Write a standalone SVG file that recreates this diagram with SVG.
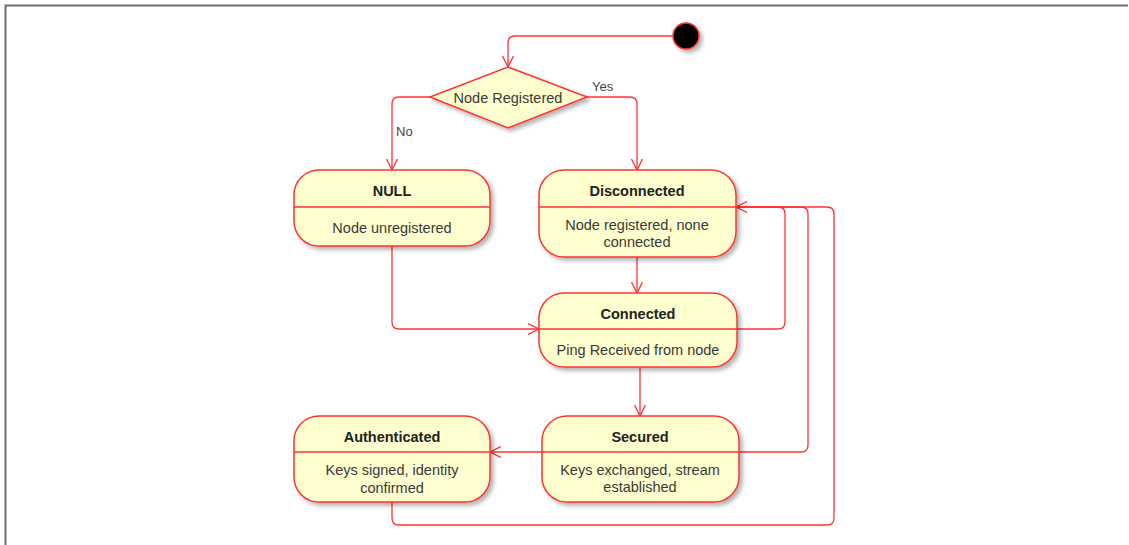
<svg xmlns="http://www.w3.org/2000/svg" width="1129" height="545" viewBox="0 0 1129 545">
  <style>
    .frame { fill: none; stroke: #6f6f6f; stroke-width: 2; }
    .state { fill: #FEFECE; stroke: #FF3333; stroke-width: 1.5; filter: url(#shadow); }
    .div { stroke: #FF3333; stroke-width: 1.5; }
    .edge { fill: none; stroke: #FF3333; stroke-width: 1.3; }
    .title { font-family: "Liberation Sans", Arial, sans-serif; font-size: 14.5px; font-weight: bold; fill: #222; text-anchor: middle; }
    .body { font-family: "Liberation Sans", Arial, sans-serif; font-size: 14.5px; fill: #3a3a3a; text-anchor: middle; }
    .lbl { font-family: "Liberation Sans", Arial, sans-serif; font-size: 13px; fill: #444; }
    .cond { font-family: "Liberation Sans", Arial, sans-serif; font-size: 14.5px; fill: #3a3a3a; text-anchor: middle; }
  </style>
  <defs>
    <filter id="shadow" x="-10%" y="-10%" width="130%" height="140%">
      <feDropShadow dx="3" dy="3" stdDeviation="2" flood-color="#000" flood-opacity="0.3"/>
    </filter>
    <marker id="arrow" viewBox="0 0 12 12" refX="11" refY="6" markerWidth="12" markerHeight="12" markerUnits="userSpaceOnUse" orient="auto">
      <path d="M0,0.5 L11,6 L0,11.5" fill="none" stroke="#FF3333" stroke-width="1.3"/>
    </marker>
  </defs>

  <rect width="1129" height="545" fill="#ffffff"/>
  <path class="frame" d="M5.5,545 V5.5 H1128"/>

  <g id="connectors">
    <!-- start to decision -->
    <path class="edge" d="M673,36 H515 Q508,36 508,43 V67" marker-end="url(#arrow)"/>
    <!-- decision: yes -->
    <path class="edge" d="M587,97 H630 Q637,97 637,104 V170" marker-end="url(#arrow)"/>
    <!-- decision: no -->
    <path class="edge" d="M430,97 H399 Q392,97 392,104 V170" marker-end="url(#arrow)"/>
    <!-- NULL to Connected -->
    <path class="edge" d="M392,246 V322 Q392,329 399,329 H539" marker-end="url(#arrow)"/>
    <!-- Disconnected to Connected -->
    <path class="edge" d="M637,257 V293" marker-end="url(#arrow)"/>
    <!-- Connected to Secured -->
    <path class="edge" d="M640,367 V416" marker-end="url(#arrow)"/>
    <!-- Secured to Authenticated -->
    <path class="edge" d="M542,452 H490" marker-end="url(#arrow)"/>
    <!-- Connected back to Disconnected -->
    <path class="edge" d="M737,329 H778 Q785,329 785,322 V214 Q785,207 778,207 H736" marker-end="url(#arrow)"/>
    <!-- Secured back to Disconnected -->
    <path class="edge" d="M739,452 H801 Q808,452 808,445 V214 Q808,207 801,207 H736"/>
    <!-- Authenticated back to Disconnected -->
    <path class="edge" d="M392,502 V518 Q392,525 399,525 H827 Q834,525 834,518 V214 Q834,207 827,207 H736"/>
    <text class="lbl" x="592" y="91">Yes</text>
    <text class="lbl" x="396" y="136">No</text>
  </g>

  <g id="start">
    <circle cx="686" cy="36" r="13" fill="#000" stroke="#FF3333" stroke-width="1.5" filter="url(#shadow)"/>
  </g>

  <g id="decision">
    <polygon class="state" points="508,67 587,97 508,128 430,97"/>
    <text class="cond" x="508" y="103">Node Registered</text>
  </g>

  <g id="null">
    <rect class="state" x="294" y="170" width="196" height="76" rx="25" ry="25"/>
    <line class="div" x1="294" y1="207" x2="490" y2="207"/>
    <text class="title" x="392" y="196">NULL</text>
    <text class="body" x="392" y="233">Node unregistered</text>
  </g>

  <g id="disconnected">
    <rect class="state" x="539" y="170" width="197" height="87" rx="25" ry="25"/>
    <line class="div" x1="539" y1="207" x2="736" y2="207"/>
    <text class="title" x="637" y="196">Disconnected</text>
    <text class="body" x="637" y="230">Node registered, none</text>
    <text class="body" x="637" y="247">connected</text>
  </g>

  <g id="connected">
    <rect class="state" x="539" y="293" width="198" height="74" rx="25" ry="25"/>
    <line class="div" x1="539" y1="329" x2="737" y2="329"/>
    <text class="title" x="638" y="319">Connected</text>
    <text class="body" x="638" y="355">Ping Received from node</text>
  </g>

  <g id="secured">
    <rect class="state" x="542" y="416" width="197" height="86" rx="25" ry="25"/>
    <line class="div" x1="542" y1="452" x2="739" y2="452"/>
    <text class="title" x="640" y="442">Secured</text>
    <text class="body" x="640" y="475">Keys exchanged, stream</text>
    <text class="body" x="640" y="492">established</text>
  </g>

  <g id="authenticated">
    <rect class="state" x="294" y="416" width="196" height="86" rx="25" ry="25"/>
    <line class="div" x1="294" y1="452" x2="490" y2="452"/>
    <text class="title" x="392" y="442">Authenticated</text>
    <text class="body" x="392" y="475">Keys signed, identity</text>
    <text class="body" x="392" y="493">confirmed</text>
  </g>
</svg>
